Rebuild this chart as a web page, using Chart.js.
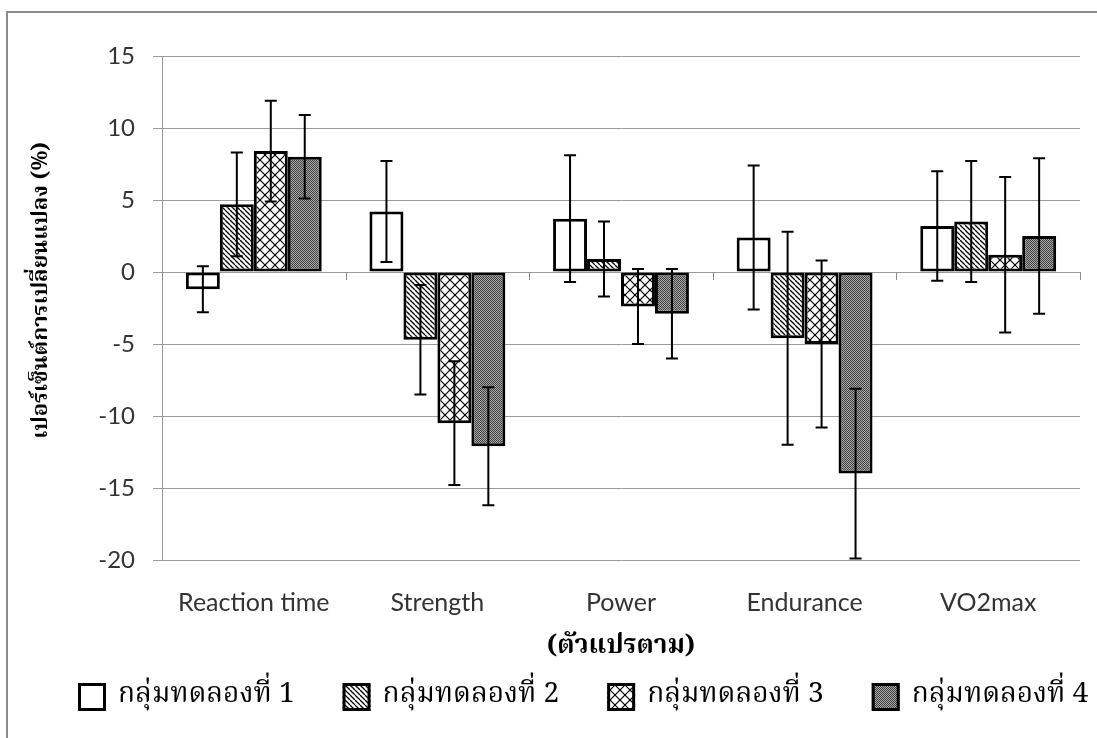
<!DOCTYPE html>
<html>
<head>
<meta charset="utf-8">
<script src="https://cdn.jsdelivr.net/npm/chart.js@4.4.1/dist/chart.umd.min.js"></script>
<style>
  html, body { margin: 0; padding: 0; background: #fff; overflow: hidden; }
  #wrap { position: relative; width: 1097px; height: 738px; }
  #frame { position: absolute; left: 6px; top: 11px; width: 1200px; height: 900px;
           border-left: 2px solid #8c8c8c; border-top: 2px solid #8c8c8c; pointer-events: none; }
  canvas { position: absolute; left: 0; top: 0; }
</style>
</head>
<body>
<div id="wrap">
  <canvas id="c" width="1097" height="738"></canvas>
  <div id="frame"></div>
</div>
<script>
// ---- data ----
const categories = ['Reaction time', 'Strength', 'Power', 'Endurance', 'VO2max'];
const seriesNames = ['กลุ่มทดลองที่ 1', 'กลุ่มทดลองที่ 2', 'กลุ่มทดลองที่ 3', 'กลุ่มทดลองที่ 4'];
const group1 = [-1.2, 4.2, 3.7, 2.4, 3.2];
const group2 = [4.7, -4.7, 0.9, -4.6, 3.5];
const group3 = [8.4, -10.5, -2.4, -5.0, 1.2];
const group4 = [8.0, -12.1, -2.9, -14.0, 2.5];
const err1 = [1.6, 3.5, 4.4, 5.0, 3.8];
const err2 = [3.6, 3.8, 2.6, 7.4, 4.2];
const err3 = [3.5, 4.3, 2.6, 5.8, 5.4];
const err4 = [2.9, 4.1, 3.1, 5.9, 5.4];
const yTicks = [15, 10, 5, 0, -5, -10, -15, -20];
const yTitle = 'เปอร์เซ็นต์การเปลี่ยนแปลง (%)';
const xTitle = '(ตัวแปรตาม)';

const thaiFont = '"Noto Serif Thai", "Noto Sans Thai", "TH Sarabun New", "Norasi", "Loma", "Garuda", "Liberation Serif", serif';
const latinFont = 'Lato, "Open Sans", "Liberation Sans", sans-serif';

const canvas = document.getElementById('c');
const ctx = canvas.getContext('2d');

function makePattern(size, draw) {
  const t = document.createElement('canvas');
  t.width = size; t.height = size;
  const g = t.getContext('2d');
  draw(g, size);
  return ctx.createPattern(t, 'repeat');
}
const patWhite = '#ffffff';
const patDiag = makePattern(5, (g, s) => {
  g.fillStyle = '#fff'; g.fillRect(0, 0, s, s);
  g.strokeStyle = '#000'; g.lineWidth = 1.3;
  for (let k = -1; k <= 1; k++) {
    g.beginPath(); g.moveTo(k * s, 0); g.lineTo(k * s + s, s); g.stroke();
  }
});
const patCross = makePattern(10, (g, s) => {
  g.fillStyle = '#fff'; g.fillRect(0, 0, s, s);
  g.strokeStyle = '#000'; g.lineWidth = 1.2;
  for (let k = -1; k <= 1; k++) {
    g.beginPath(); g.moveTo(k * s, 0); g.lineTo(k * s + s, s); g.stroke();
    g.beginPath(); g.moveTo(k * s + s, 0); g.lineTo(k * s, s); g.stroke();
  }
});
const patDots = makePattern(2, (g, s) => {
  g.fillStyle = '#aaaaaa'; g.fillRect(0, 0, s, s);
  g.fillStyle = '#404040'; g.fillRect(0, 0, 1, 1); g.fillRect(1, 1, 1, 1);
});

const fills = [patWhite, patDiag, patCross, patDots];
const values = [group1, group2, group3, group4];
const errors = [err1, err2, err3, err4];

const errorBars = {
  id: 'errorBars',
  afterDatasetsDraw(chart) {
    const y = chart.scales.y;
    const c = chart.ctx;
    c.save();
    c.strokeStyle = '#000';
    c.lineWidth = 2;
    chart.data.datasets.forEach((ds, i) => {
      const meta = chart.getDatasetMeta(i);
      meta.data.forEach((bar, j) => {
        const v = ds.data[j], e = errors[i][j];
        const yt = y.getPixelForValue(v + e), yb = y.getPixelForValue(v - e);
        const x = bar.x, cap = 6;
        c.beginPath();
        c.moveTo(x, yt); c.lineTo(x, yb);
        c.moveTo(x - cap, yt); c.lineTo(x + cap, yt);
        c.moveTo(x - cap, yb); c.lineTo(x + cap, yb);
        c.stroke();
      });
    });
    c.restore();
  }
};

const zeroAxis = {
  id: 'zeroAxis',
  beforeDatasetsDraw(chart) {
    const x = chart.scales.x, y = chart.scales.y, c = chart.ctx;
    const y0 = y.getPixelForValue(0);
    c.save();
    c.strokeStyle = '#8c8c8c'; c.lineWidth = 1;
    c.beginPath();
    for (let k = 0; k <= categories.length; k++) {
      const px = Math.round(x.getPixelForValue(k - 0.5)) + 0.5;
      c.moveTo(px, y0); c.lineTo(px, y0 + 8);
    }
    c.stroke();
    c.restore();
  }
};

const yTitlePlugin = {
  id: 'yTitlePlugin',
  afterDraw(chart) {
    const a = chart.chartArea, c = chart.ctx;
    c.save();
    c.translate(a.left - 119, a.top + (a.bottom - a.top) * 0.465);
    c.rotate(-Math.PI / 2);
    c.fillStyle = '#000';
    c.font = 'bold 22px ' + thaiFont;
    c.textAlign = 'center';
    c.textBaseline = 'middle';
    c.fillText(yTitle, 0, 0);
    c.restore();
  }
};

// legend drawn from the datasets' own label / fill / border
const legendPlugin = {
  id: 'legendPlugin',
  afterDraw(chart) {
    const c = chart.ctx;
    const box = 28, gapText = 12, gapItem = 48;
    const cy = chart.height - 41;
    let x = 78;
    c.save();
    c.font = '28px ' + thaiFont;
    c.textBaseline = 'middle';
    c.textAlign = 'left';
    chart.data.datasets.forEach(ds => {
      c.fillStyle = ds.backgroundColor;
      c.fillRect(x, cy - box / 2, box, box);
      c.strokeStyle = ds.borderColor;
      c.lineWidth = ds.borderWidth;
      c.strokeRect(x + 1.5, cy - box / 2 + 1.5, box - 3, box - 3);
      c.fillStyle = '#000';
      const tx = x + box + gapText;
      c.fillText(ds.label, tx, cy);
      x = tx + c.measureText(ds.label).width + gapItem;
    });
    c.restore();
  }
};

new Chart(ctx, {
  type: 'bar',
  data: {
    labels: categories,
    datasets: seriesNames.map((n, i) => ({
      label: n,
      data: values[i],
      backgroundColor: fills[i],
      borderColor: '#000',
      borderWidth: 3,
      borderSkipped: false,
      categoryPercentage: 0.74,
      barPercentage: 1.0
    }))
  },
  options: {
    responsive: false,
    animation: false,
    devicePixelRatio: 1,
    layout: { padding: { left: 86, right: 17, top: 56, bottom: 74 } },
    plugins: {
      legend: { display: false },
      tooltip: { enabled: false }
    },
    scales: {
      y: {
        min: -20, max: 15,
        afterBuildTicks(s) { s.ticks = yTicks.map(v => ({ value: v })); },
        afterFit(s) { s.width = 76; },
        ticks: { color: '#333', font: { family: latinFont, size: 24 }, padding: 18 },
        grid: { color: '#9a9a9a', lineWidth: 1, tickLength: 9, drawTicks: true, tickColor: '#9a9a9a' },
        border: { display: true, color: '#9a9a9a', width: 1 }
      },
      x: {
        afterFit(s) { s.height = 104; },
        grid: { display: false, drawTicks: false },
        border: { display: false },
        ticks: { color: '#333', font: { family: latinFont, size: 25 }, padding: 28 },
        title: {
          display: true, text: xTitle, color: '#000',
          font: { family: thaiFont, size: 26, weight: 'bold' },
          padding: { top: 0, bottom: 0 }
        }
      }
    }
  },
  plugins: [errorBars, zeroAxis, yTitlePlugin, legendPlugin]
});
</script>
</body>
</html>
